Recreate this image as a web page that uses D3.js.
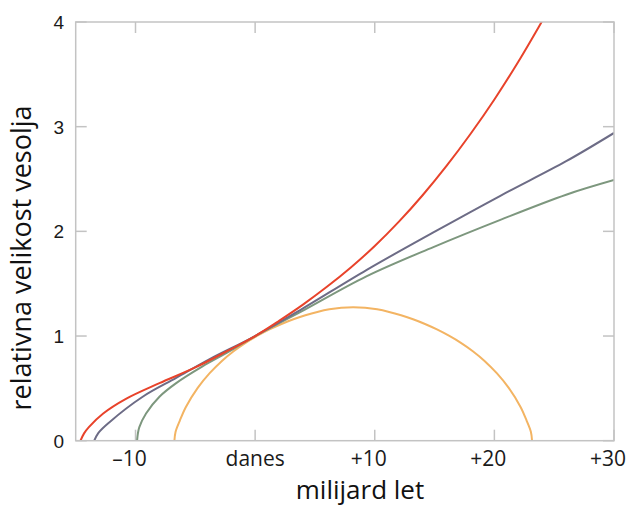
<!DOCTYPE html>
<html><head><meta charset="utf-8">
<script src="https://cdn.jsdelivr.net/npm/d3@7"></script>
<style>html,body{margin:0;padding:0;background:#fff;}</style>
</head><body>
<svg id="c" width="628" height="509"></svg>
<script>
// x tick values and labels
const xTicks = [-10, 0, 10, 20, 30];
const xTickLabels = ["\u201310", "danes", "+10", "+20", "+30"];
const yTicks = [0, 1, 2, 3, 4];
const yTickLabels = ["0", "1", "2", "3", "4"];

// series: [time (milijard let), relative size]
const accelerating = [[-14.6,0],[-14.3,0.07],[-13.9,0.13],[-12.7,0.26],[-10.8,0.40],[-8.0,0.55],[-5.0,0.70],[-2.2,0.865],[0,1.0],[2,1.145],[4,1.30],[6,1.47],[8,1.655],[10,1.86],[12,2.09],[14,2.345],[16,2.625],[18,2.93],[20,3.26],[22,3.62],[24,4.01]];
const open = [[-13.45,0],[-13.1,0.075],[-12.2,0.175],[-9.4,0.42],[-6.6,0.60],[-3.8,0.78],[0,1.0],[3.8,1.25],[9.3,1.63],[14.9,1.99],[20.5,2.34],[26.0,2.67],[30,2.94]];
const critical = [[-9.87,0],[-9.8,0.07],[-9.68,0.13],[-9.12,0.26],[-8.0,0.42],[-6.6,0.55],[-4.4,0.71],[-2.2,0.85],[0,1.0],[3.8,1.23],[9.3,1.57],[14.9,1.85],[20.5,2.11],[26.0,2.35],[30,2.49]];
const closed = [[-6.75,0],[-6.65,0.085],[-6.3,0.19],[-5.8,0.32],[-4.8,0.505],[-3.8,0.645],[-2.8,0.76],[-1.8,0.855],[-0.8,0.935],[0.2,1.003],[1.2,1.063],[2.2,1.115],[3.2,1.16],[4.2,1.198],[5.2,1.23],[6.2,1.255],[7.2,1.27],[8.2,1.275],[9.2,1.27],[10.2,1.255],[11.2,1.23],[12.2,1.198],[13.2,1.16],[14.2,1.115],[15.2,1.063],[16.2,1.003],[17.2,0.935],[18.2,0.855],[19.2,0.76],[20.2,0.645],[21.2,0.505],[22.2,0.32],[22.7,0.19],[23.05,0.085],[23.15,0]];

const seriesList = [
  {data: closed, color: "#f3b463"},
  {data: critical, color: "#7d977e"},
  {data: open, color: "#6d6c86"},
  {data: accelerating, color: "#e8432b"}
];

const L = 75.7, R = 614, T = 22, B = 440.7;
const x = d3.scaleLinear().domain([-15, 30]).range([L, R]);
const y = d3.scaleLinear().domain([0, 4]).range([B, T]);

const svg = d3.select("#c");
svg.append("defs").append("clipPath").attr("id","clip")
  .append("rect").attr("x", L).attr("y", T).attr("width", R-L).attr("height", B-T);

const frameColor = "#c3c3c3";
const tickLen = 11;

// ticks (inward, all four sides)
const g = svg.append("g");
xTicks.forEach(v => {
  g.append("line").attr("x1", x(v)).attr("x2", x(v)).attr("y1", B).attr("y2", B - tickLen)
    .attr("stroke", frameColor).attr("stroke-width", 1.5);
  g.append("line").attr("x1", x(v)).attr("x2", x(v)).attr("y1", T).attr("y2", T + tickLen)
    .attr("stroke", frameColor).attr("stroke-width", 1.5);
});
yTicks.forEach(v => {
  g.append("line").attr("x1", L).attr("x2", L + tickLen).attr("y1", y(v)).attr("y2", y(v))
    .attr("stroke", frameColor).attr("stroke-width", 1.5);
  g.append("line").attr("x1", R).attr("x2", R - tickLen).attr("y1", y(v)).attr("y2", y(v))
    .attr("stroke", frameColor).attr("stroke-width", 1.5);
});

// curves
const line = d3.line().x(d => x(d[0])).y(d => y(d[1])).curve(d3.curveCatmullRom.alpha(0.5));
const cg = svg.append("g").attr("clip-path", "url(#clip)");
seriesList.forEach(s => {
  cg.append("path").attr("d", line(s.data)).attr("fill", "none")
    .attr("stroke", s.color).attr("stroke-width", 2);
});

// frame
svg.append("rect").attr("x", L).attr("y", T).attr("width", R-L).attr("height", B-T)
  .attr("fill", "none").attr("stroke", frameColor).attr("stroke-width", 1.5);

// tick labels
xTicks.forEach((v, i) => {
  svg.append("text").attr("x", x(v) + (i === 1 ? 0 : -6)).attr("y", 466)
    .attr("text-anchor", "middle")
    .attr("font-family", "'Open Sans', sans-serif").attr("font-size", 21).attr("fill", "#1a1a1a")
    .text(xTickLabels[i]);
});
yTicks.forEach((v, i) => {
  svg.append("text").attr("x", 64).attr("y", y(v)).attr("dy", "0.36em")
    .attr("text-anchor", "end")
    .attr("font-family", "'Liberation Sans', Arial, sans-serif").attr("font-size", 19).attr("fill", "#1a1a1a")
    .text(yTickLabels[i]);
});

// axis titles
svg.append("text").attr("x", 360).attr("y", 499).attr("text-anchor", "middle")
  .attr("font-family", "'Open Sans', sans-serif").attr("font-size", 26).attr("fill", "#111")
  .text("milijard let");
svg.append("text").attr("transform", "translate(31,258) rotate(-90)").attr("text-anchor", "middle")
  .attr("font-family", "'Open Sans', sans-serif").attr("font-size", 27).attr("fill", "#111")
  .text("relativna velikost vesolja");
</script>
</body></html>
